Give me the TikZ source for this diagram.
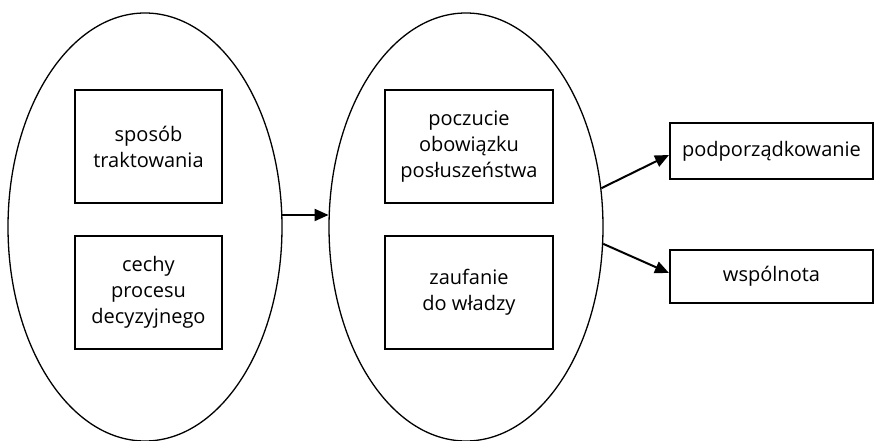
\documentclass[tikz,border=0pt]{standalone}
\usepackage{fontspec}
\setmainfont{Open Sans}
\usetikzlibrary{shapes.geometric,arrows.meta}
\begin{document}
\begin{tikzpicture}[x=1pt,y=1pt,
  oval/.style={draw=black,line width=1.3pt,ellipse,minimum width=274pt,minimum height=428pt,inner sep=0pt},
  inbox/.style={draw=black,line width=2pt,minimum width=147pt,minimum height=113pt,inner sep=0pt,align=center,font=\fontsize{20}{26}\selectfont},
  inbox2/.style={inbox,minimum width=168pt},
  outbox/.style={draw=black,line width=2pt,minimum width=203pt,inner sep=0pt,align=center,font=\fontsize{20}{26}\selectfont},
  conn/.style={line width=2pt,-{Triangle[length=14pt,width=12pt]}}]
\useasboundingbox (0,0) rectangle (878,440);
\node[oval] (e1) at (145,213) {};
\node[oval] (e2) at (466,213) {};
\node[inbox] (b1) at (148.5,293.5) {sposób\\traktowania};
\node[inbox] (b2) at (148.5,148) {cechy\\procesu\\decyzyjnego};
\node[inbox2] (b3) at (469,293.5) {poczucie\\obowiązku\\posłuszeństwa};
\node[inbox2] (b4) at (469,148) {zaufanie\\do władzy};
\node[outbox,minimum height=56pt] (r1) at (771.5,289) {podporządkowanie};
\node[outbox,minimum height=53pt] (r2) at (771.5,163.5) {wspólnota};
\draw[conn] (e1.5) -- (e2.175);
\draw[conn] (e2.16) -- ([yshift=-4pt]r1.west);
\draw[conn] (e2.353) -- ([yshift=3.5pt]r2.west);
\end{tikzpicture}
\end{document}
